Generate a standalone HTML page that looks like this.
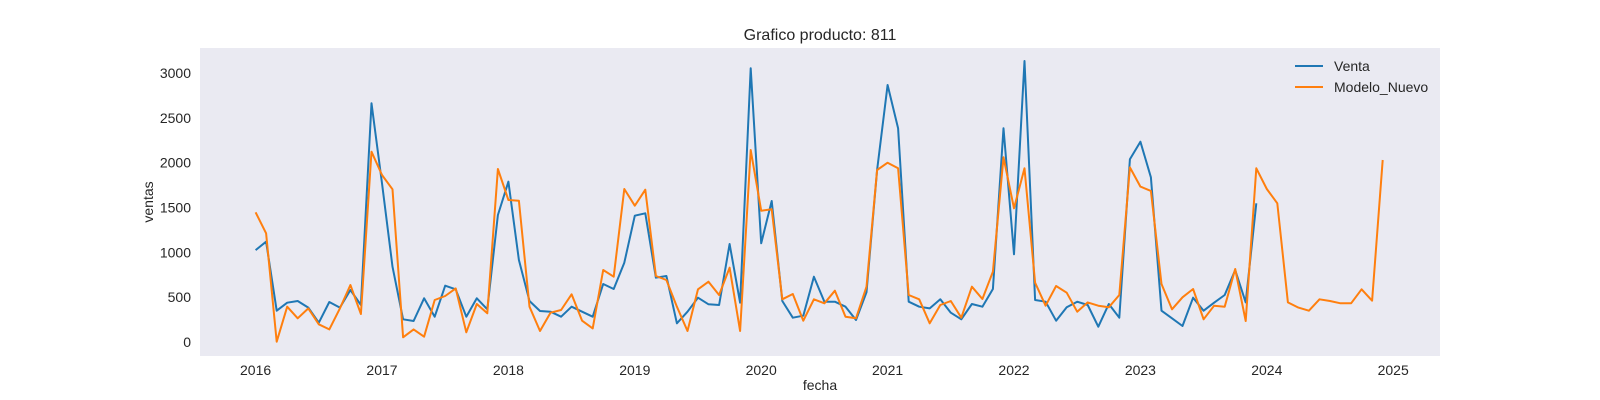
<!DOCTYPE html>
<html><head><meta charset="utf-8"><style>
body{margin:0;background:#fff;}
svg{display:block;font-family:"Liberation Sans",Arial,sans-serif;}
</style></head><body>
<svg id="chart" width="1600" height="400" viewBox="0 0 1600 400">
<rect x="200" y="48" width="1240" height="308" fill="#EAEAF2"/>
<text x="820" y="40" text-anchor="middle" font-size="16" fill="#262626">Grafico producto: 811</text>
<text x="820" y="390" text-anchor="middle" font-size="14" fill="#262626">fecha</text>
<text transform="translate(153,202) rotate(-90)" text-anchor="middle" font-size="14" fill="#262626">ventas</text>
<g id="xticks"></g><g id="yticks"></g><g id="lines"></g>
<g>
<line x1="1295" y1="66" x2="1323" y2="66" stroke="#1f77b4" stroke-width="2"/>
<text x="1334" y="71" font-size="14" fill="#262626">Venta</text>
<line x1="1295" y1="87" x2="1323" y2="87" stroke="#ff7f0e" stroke-width="2"/>
<text x="1334" y="92" font-size="14" fill="#262626">Modelo_Nuevo</text>
</g>
</svg>
<script>
const startYear = 2016;
const xTickLabels = [2016,2017,2018,2019,2020,2021,2022,2023,2024,2025];
const yTickLabels = [0,500,1000,1500,2000,2500,3000];
const venta = [
1025,1118,349,438,457,383,215,446,383,580,412,2661,
1769,840,253,234,487,282,628,587,282,487,364,1416,
1787,914,457,346,338,282,394,338,282,647,591,884,
1408,1435,717,736,208,338,494,420,412,1093,438,3051,
1100,1572,457,271,293,728,449,449,394,245,554,1918,
2865,2382,449,394,375,476,327,253,424,394,591,2382,
978,3133,468,449,237,387,449,412,171,424,271,2037,
2233,1836,349,264,178,494,349,438,524,803,442,1546];
const modeloNuevo = [
1446,1212,3,394,264,375,197,141,375,635,312,2122,
1862,1702,52,141,59,468,513,598,108,424,320,1929,
1583,1575,394,123,327,357,532,237,152,803,728,1706,
1520,1698,736,691,394,123,587,672,524,828,123,2140,
1464,1479,476,535,237,476,431,572,282,264,617,1918,
1999,1936,524,476,208,412,457,271,617,479,784,2059,
1491,1936,661,405,624,550,338,442,405,387,524,1947,
1732,1684,647,364,498,591,253,405,394,814,234,1936,
1706,1546,442,383,349,476,457,431,431,587,460,2029];

const NS="http://www.w3.org/2000/svg";
function xScale(yearFrac){return 255.6+(yearFrac-startYear)*126.4;}
function yScale(v){return 342-v*0.0897;}
const xt=document.getElementById('xticks');
xTickLabels.forEach(function(y){
  const t=document.createElementNS(NS,'text');
  t.setAttribute('x',xScale(y));t.setAttribute('y',375);
  t.setAttribute('text-anchor','middle');t.setAttribute('font-size','14');t.setAttribute('fill','#262626');
  t.textContent=y;
  
  
  xt.appendChild(t);
});
const yt=document.getElementById('yticks');
yTickLabels.forEach(function(v){
  const t=document.createElementNS(NS,'text');
  t.setAttribute('x',191);t.setAttribute('y',yScale(v)+5);
  t.setAttribute('text-anchor','end');t.setAttribute('font-size','14');t.setAttribute('fill','#262626');
  t.textContent=v;
  
  
  yt.appendChild(t);
});
function drawSeries(vals,color,name){
  const pts=vals.map(function(v,i){return xScale(startYear+i/12).toFixed(1)+','+yScale(v).toFixed(1);}).join(' ');
  const p=document.createElementNS(NS,'polyline');
  p.setAttribute('points',pts);p.setAttribute('fill','none');
  p.setAttribute('stroke',color);p.setAttribute('stroke-width','2');p.setAttribute('stroke-linejoin','round');
  
  
  document.getElementById('lines').appendChild(p);
}
drawSeries(venta,'#1f77b4','venta-line');
drawSeries(modeloNuevo,'#ff7f0e','modelo-nuevo-line');
</script>
</body></html>
